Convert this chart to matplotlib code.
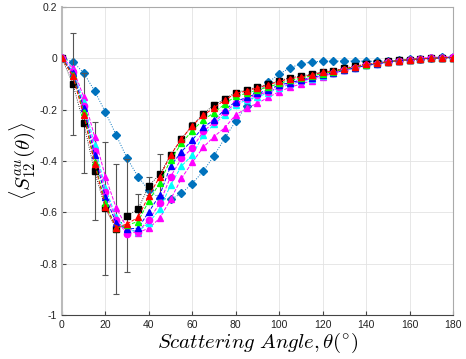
import numpy as np
import matplotlib
matplotlib.use("Agg")
import matplotlib.pyplot as plt

plt.rcParams['mathtext.fontset'] = 'cm'
plt.rcParams['font.family'] = ['Liberation Sans', 'DejaVu Sans']

angles = list(range(0, 181, 5))

s_black = [0, -0.10, -0.253, -0.44, -0.585, -0.665, -0.613, -0.588, -0.497, -0.452,
           -0.377, -0.314, -0.262, -0.216, -0.182, -0.157, -0.134, -0.123, -0.112, -0.10,
           -0.088, -0.075, -0.070, -0.061, -0.052, -0.048, -0.038, -0.031, -0.022, -0.018,
           -0.012, -0.008, -0.005, -0.002, 0.0, 0.002, 0.003]
err_black = [0, 0.20, 0.195, 0.19, 0.26, 0.255, 0.22, 0.06, 0.035, 0.08,
             0.013, 0.012, 0.012, 0.012, 0.01, 0.01, 0.008, 0.008, 0.007, 0.006,
             0.006, 0.005, 0.005, 0.004, 0.004, 0.004, 0.003, 0.003, 0.003, 0.002,
             0.002, 0.002, 0.001, 0.001, 0.001, 0.001, 0.001]
s_red = [0, -0.07, -0.22, -0.41, -0.578, -0.66, -0.645, -0.62, -0.535, -0.462,
         -0.377, -0.314, -0.262, -0.222, -0.193, -0.162, -0.137, -0.127, -0.115, -0.103,
         -0.090, -0.079, -0.073, -0.064, -0.055, -0.050, -0.040, -0.033, -0.024, -0.019,
         -0.013, -0.009, -0.005, -0.002, 0.0, 0.002, 0.003]
s_green = [0, -0.065, -0.208, -0.403, -0.565, -0.662, -0.65, -0.636, -0.555, -0.485,
           -0.396, -0.331, -0.282, -0.24, -0.212, -0.178, -0.147, -0.137, -0.123, -0.112,
           -0.098, -0.086, -0.078, -0.068, -0.060, -0.052, -0.043, -0.035, -0.026, -0.020,
           -0.014, -0.009, -0.005, -0.002, 0.0, 0.002, 0.003]
s_blue = [0, -0.058, -0.195, -0.377, -0.54, -0.643, -0.665, -0.662, -0.598, -0.533,
          -0.42, -0.364, -0.318, -0.269, -0.24, -0.20, -0.169, -0.152, -0.137, -0.123,
          -0.104, -0.095, -0.085, -0.075, -0.065, -0.056, -0.046, -0.037, -0.028, -0.021,
          -0.015, -0.010, -0.006, -0.003, 0.0, 0.002, 0.003]
s_magc = [0, -0.055, -0.185, -0.36, -0.52, -0.63, -0.684, -0.675, -0.63, -0.565,
          -0.461, -0.39, -0.35, -0.285, -0.25, -0.21, -0.175, -0.157, -0.143, -0.13,
          -0.112, -0.10, -0.088, -0.078, -0.066, -0.057, -0.047, -0.037, -0.028, -0.022,
          -0.015, -0.010, -0.006, -0.003, 0.0, 0.002, 0.004]
s_cyan = [0, -0.05, -0.169, -0.338, -0.506, -0.62, -0.669, -0.675, -0.64, -0.588,
          -0.494, -0.42, -0.377, -0.30, -0.257, -0.22, -0.182, -0.162, -0.15, -0.135,
          -0.115, -0.102, -0.09, -0.08, -0.068, -0.058, -0.047, -0.037, -0.028, -0.022,
          -0.015, -0.010, -0.006, -0.003, 0.0, 0.002, 0.004]
s_magt = [0.004, -0.039, -0.15, -0.305, -0.461, -0.584, -0.66, -0.679, -0.662, -0.623,
          -0.55, -0.468, -0.405, -0.347, -0.305, -0.27, -0.22, -0.195, -0.175, -0.152,
          -0.13, -0.113, -0.10, -0.087, -0.072, -0.059, -0.046, -0.033, -0.022, -0.020,
          -0.012, -0.010, -0.004, -0.001, 0.004, 0.004, 0.006]
s_diam = [0, -0.013, -0.057, -0.127, -0.21, -0.30, -0.39, -0.461, -0.515, -0.545,
          -0.55, -0.526, -0.488, -0.44, -0.38, -0.31, -0.245, -0.185, -0.135, -0.094,
          -0.061, -0.037, -0.022, -0.014, -0.012, -0.011, -0.011, -0.011, -0.011, -0.012,
          -0.010, -0.008, -0.004, -0.001, 0.003, 0.004, 0.005]

xticks = [0, 20, 40, 60, 80, 100, 120, 140, 160, 180]
yticks = [0.2, 0, -0.2, -0.4, -0.6, -0.8, -1]
ytick_labels = ['0.2', '0', '-0.2', '-0.4', '-0.6', '-0.8', '-1']

fig = plt.figure(figsize=(4.66, 3.59), dpi=100)
ax = fig.add_axes([0.133, 0.1226, 0.839, 0.858])

ax.plot(angles, s_diam, linestyle=':', color='#0072BD', lw=0.7, marker='D',
        ms=4, mfc='#0072BD', mec='#0072BD', zorder=2)

ax.errorbar(angles, s_black, yerr=err_black, fmt='s', color='k', ms=4,
            ecolor='#555555', elinewidth=0.8, capsize=2.5, capthick=0.8, zorder=2.5)
ax.plot(angles, s_black, linestyle=':', color='k', lw=0.6, zorder=2.5)

series = [
    (s_magt, '#FF00FF', '^', 5),
    (s_cyan, '#00FFFF', '^', 5),
    (s_magc, '#FF00FF', 'o', 4.5),
    (s_blue, '#0000FF', '^', 5),
    (s_green, '#00FF00', '^', 5),
    (s_red, '#FF0000', '^', 5),
]
for vals, c, m, ms in series:
    ax.plot(angles, vals, linestyle='--', color=c, lw=0.7, marker=m, ms=ms,
            mfc=c, mec=c, zorder=3)

ax.set_xlim(0, 180)
ax.set_ylim(-1, 0.2)
ax.set_xticks(xticks)
ax.set_yticks(yticks)
ax.set_yticklabels(ytick_labels)
ax.tick_params(direction='in', labelsize=7.5, length=3, color='#444444',
               labelcolor='#222222', top=False, right=False)
ax.grid(True, color='#e3e3e3', lw=0.6)
ax.set_axisbelow(True)
for side in ['top', 'right']:
    ax.spines[side].set_color('#aaaaaa')
    ax.spines[side].set_linewidth(0.8)
ax.spines['left'].set_color('#bbbbbb')
ax.spines['left'].set_linewidth(1.5)
ax.spines['bottom'].set_color('#444444')
ax.spines['bottom'].set_linewidth(0.8)

ax.set_xlabel(r'$Scattering\ Angle, \theta(^{\circ})$', fontsize=15, labelpad=1)
ax.set_ylabel(r'$\langle S_{12}^{au}(\theta)\rangle$', fontsize=15)
ax.yaxis.set_label_coords(-0.062, 0.5)

fig.savefig('out.png', dpi=100)
